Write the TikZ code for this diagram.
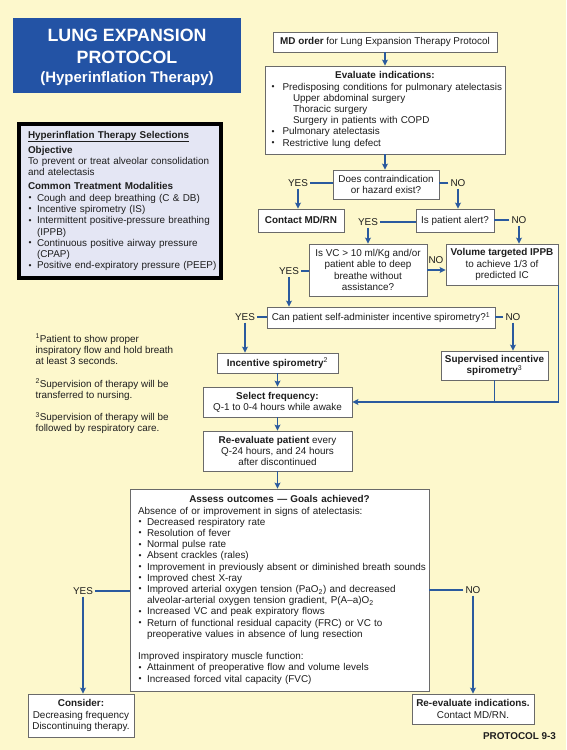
\documentclass[tikz,border=0pt]{standalone}
\usepackage{fontspec}
\setmainfont{Liberation Sans}
\usetikzlibrary{arrows.meta,positioning}

\definecolor{bgyellow}{HTML}{FDF8CC}
\definecolor{titleblue}{HTML}{2353A5}
\definecolor{flowblue}{HTML}{2A5A9E}
\definecolor{selfill}{HTML}{E4E6F4}
\definecolor{boxgray}{HTML}{6A6A6A}
\definecolor{txt}{HTML}{1E1E1E}

\newcommand{\itm}[2][9pt]{\mbox{\makebox[#1][l]{\hspace{0.5pt}\raisebox{0.6pt}{\fontsize{8.5}{8.5}\selectfont\textbullet}}#2}}

\begin{document}
\begin{tikzpicture}[x=1pt,y=-1pt,text=txt,
	font=\fontsize{9.9}{11.2}\selectfont,
	box/.style={draw=boxgray,fill=white,line width=0.8pt,inner sep=0pt,align=center},
	leftbox/.style={box,align=left,inner ysep=0pt},
	titlebox/.style={fill=titleblue,text=white,align=center,inner sep=0pt,
		font=\bfseries\fontsize{17.8}{22}\selectfont},
	selbox/.style={draw=black,fill=selfill,line width=4pt,align=left,inner ysep=0pt,
		font=\fontsize{9.9}{11.3}\selectfont},
	lbl/.style={inner sep=2pt},
	conn/.style={draw=flowblue,line width=1.1pt},
	arr/.style={conn,-{Stealth[length=6pt,width=6pt,inset=1.2pt]}}]

	\fill[bgyellow] (0,0) rectangle (566,750);
	\useasboundingbox (0,0) rectangle (566,750);

	\node[titlebox,minimum width=228,minimum height=75] (title) at (127,55.5) {};
	\node[titlebox] (titletext) at (127,57.5)
		{LUNG EXPANSION\\PROTOCOL\\[-3pt]{\fontsize{15}{19}\selectfont (Hyperinflation Therapy)}};

	\node[selbox,minimum width=202,minimum height=154,text width=184,inner xsep=9] (sel) at (120,201) {%
		\underline{\textbf{Hyperinflation Therapy Selections}}\\[3.7pt]
		\textbf{Objective}\\
		To prevent or treat alveolar consolidation\\
		and atelectasis\\[2.7pt]
		\textbf{Common Treatment Modalities}\\
		\itm{Cough and deep breathing (C \& DB)}\\
		\itm{Incentive spirometry (IS)}\\
		\itm{Intermittent positive-pressure breathing}\\
		\hspace*{9pt}(IPPB)\\
		\itm{Continuous positive airway pressure}\\
		\hspace*{9pt}(CPAP)\\
		\itm{Positive end-expiratory pressure (PEEP)}};

	\node[align=left,anchor=west] (notes) at (32,384) {%
		\textsuperscript{1}Patient to show proper\\
		inspiratory flow and hold breath\\
		at least 3 seconds.\\[11.2pt]
		\textsuperscript{2}Supervision of therapy will be\\
		transferred to nursing.\\[11.2pt]
		\textsuperscript{3}Supervision of therapy will be\\
		followed by respiratory care.};

	\node[box,minimum width=224,minimum height=20] (md) at (385,42)
		{\textbf{MD order} for Lung Expansion Therapy Protocol};
	\node[leftbox,minimum width=240,minimum height=88,text width=228,inner xsep=6] (eval) at (385,110) {%
		\makebox[\linewidth]{\textbf{Evaluate indications:}}\\
		\itm[11.5pt]{Predisposing conditions for pulmonary atelectasis}\\
		\hspace*{22pt}Upper abdominal surgery\\
		\hspace*{22pt}Thoracic surgery\\
		\hspace*{22pt}Surgery in patients with COPD\\
		\itm[11.5pt]{Pulmonary atelectasis}\\
		\itm[11.5pt]{Restrictive lung defect}};
	\node[box,minimum width=106,minimum height=29] (contra) at (386,184.5)
		{Does contraindication\\or hazard exist?};
	\node[lbl] (yesA) at (298,183) {YES};
	\node[lbl] (noA) at (458,183) {NO};

	\node[box,minimum width=86,minimum height=23] (contact) at (301,220.5) {\textbf{Contact MD/RN}};
	\node[box,minimum width=78,minimum height=23] (alert) at (455,220.5) {Is patient alert?};
	\node[lbl] (yesB) at (368,222) {YES};
	\node[lbl] (noB) at (519,220) {NO};

	\node[box,minimum width=118,minimum height=52] (vc) at (368,270)
		{Is VC > 10 ml/Kg and/or\\patient able to deep\\breathe without\\assistance?};
	\node[box,minimum width=112,minimum height=41] (ippb) at (502,264.5)
		{\textbf{Volume targeted IPPB}\\to achieve 1/3 of\\predicted IC};
	\node[lbl] (yesC) at (289,271) {YES};
	\node[lbl] (noC) at (436,260) {NO};

	\node[box,minimum width=228,minimum height=21] (can) at (381,317.5)
		{Can patient self-administer incentive spirometry?\textsuperscript{1}};
	\node[lbl] (yesD) at (245,317) {YES};
	\node[lbl] (noD) at (513,317) {NO};

	\node[box,minimum width=121,minimum height=20] (inc) at (277.5,363)
		{\textbf{Incentive spirometry}\textsuperscript{2}};
	\node[box,minimum width=107,minimum height=29] (sup) at (494.5,365.5)
		{\textbf{Supervised incentive}\\\textbf{spirometry}\textsuperscript{3}};
	\node[box,minimum width=149,minimum height=30] (freq) at (277.5,402)
		{\textbf{Select frequency:}\\Q-1 to 0-4 hours while awake};
	\node[box,minimum width=149,minimum height=40] (reev) at (277.5,451)
		{\textbf{Re-evaluate patient} every\\Q-24 hours, and 24 hours\\after discontinued};

	\node[leftbox,minimum width=299,minimum height=202,text width=283,inner xsep=8] (assess) at (279.5,590) {%
		\makebox[\linewidth]{\textbf{Assess outcomes — Goals achieved?}}\\
		Absence of or improvement in signs of atelectasis:\\
		\itm{Decreased respiratory rate}\\
		\itm{Resolution of fever}\\
		\itm{Normal pulse rate}\\
		\itm{Absent crackles (rales)}\\
		\itm{Improvement in previously absent or diminished breath sounds}\\
		\itm{Improved chest X-ray}\\
		\itm{Improved arterial oxygen tension (PaO\textsubscript{2}) and decreased}\\
		\hspace*{9pt}alveolar-arterial oxygen tension gradient, P(A–a)O\textsubscript{2}\\
		\itm{Increased VC and peak expiratory flows}\\
		\itm{Return of functional residual capacity (FRC) or VC to}\\
		\hspace*{9pt}preoperative values in absence of lung resection\\[11.2pt]
		Improved inspiratory muscle function:\\
		\itm{Attainment of preoperative flow and volume levels}\\
		\itm{Increased forced vital capacity (FVC)}};
	\node[lbl] (yesE) at (83,591) {YES};
	\node[lbl] (noE) at (473,590) {NO};

	\node[box,minimum width=106,minimum height=43] (cons) at (81,715.5)
		{\textbf{Consider:}\\Decreasing frequency\\Discontinuing therapy.};
	\node[box,minimum width=122,minimum height=30] (reind) at (473,709)
		{\textbf{Re-evaluate indications.}\\Contact MD/RN.};
	\node[font=\bfseries\fontsize{9.9}{11.2}\selectfont] (proto) at (519.5,736) {PROTOCOL 9-3};

	\draw[arr] (md.south) -- (md.south |- eval.north);
	\draw[arr] (eval.south) -- (eval.south |- contra.north);
	\draw[conn] (yesA.east) -- (yesA.east -| contra.west);
	\draw[conn] (noA.west) -- (noA.west -| contra.east);
	\draw[arr] (yesA.south) -- (yesA.south |- contact.north);
	\draw[arr] (noA.south) -- (noA.south |- alert.north);

	\draw[conn] (yesB.east) -- (yesB.east -| alert.west);
	\draw[conn] (noB.west) -- (noB.west -| alert.east);
	\draw[arr] (yesB.south) -- (yesB.south |- vc.north);
	\draw[arr] (noB.south) -- (noB.south |- ippb.north);

	\draw[arr] (vc.east) -- (vc.east -| ippb.west);
	\draw[conn] (yesC.east) -- (yesC.east -| vc.west);
	\draw[arr] (yesC.south) -- (yesC.south |- can.north);

	\draw[conn] (yesD.east) -- (yesD.east -| can.west);
	\draw[conn] (noD.west) -- (noD.west -| can.east);
	\draw[arr] (yesD.south) -- (yesD.south |- inc.north);
	\draw[arr] (noD.south) -- (noD.south |- sup.north);

	\draw[arr] (inc.south) -- (inc.south |- freq.north);
	\draw[arr] (ippb.south east) -- (ippb.south east |- freq.east) -- (freq.east);
	\draw[conn] (sup.south) -- (sup.south |- freq.east);
	\draw[arr] (freq.south) -- (freq.south |- reev.north);
	\draw[arr] (reev.south) -- (reev.south |- assess.north);

	\draw[conn] (yesE.east) -- (yesE.east -| assess.west);
	\draw[conn] (noE.west) -- (noE.west -| assess.east);
	\draw[arr] (yesE.south) -- (yesE.south |- cons.north);
	\draw[arr] (noE.south) -- (noE.south |- reind.north);
\end{tikzpicture}
\end{document}
